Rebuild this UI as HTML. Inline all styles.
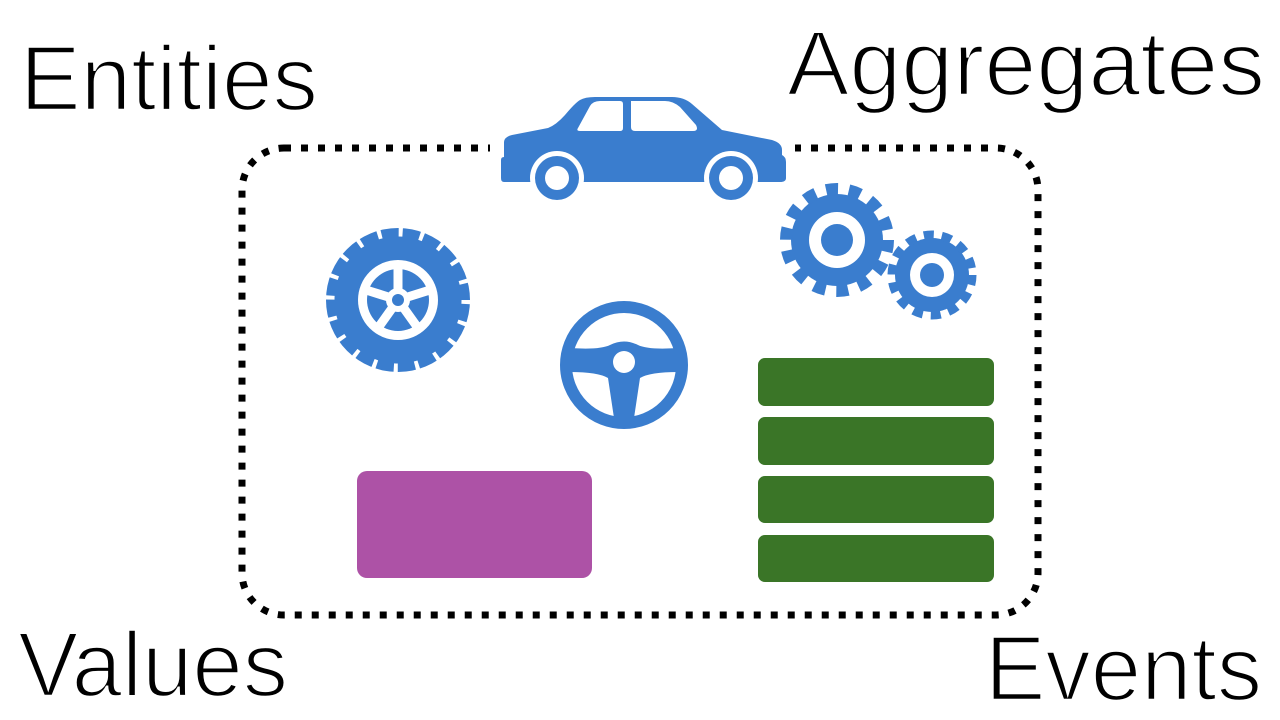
<!DOCTYPE html>
<html><head><meta charset="utf-8"><style>
html,body{margin:0;padding:0;background:#fff;width:1280px;height:720px;overflow:hidden}
svg{display:block}
text{font-family:"Liberation Sans",sans-serif;fill:#000;stroke:#fff;stroke-width:2.5}
</style></head><body>
<svg width="1280" height="720" viewBox="0 0 1280 720" xmlns="http://www.w3.org/2000/svg">
<text x="20" y="110" font-size="92" textLength="298" lengthAdjust="spacingAndGlyphs">Entities</text>
<text x="787" y="95" font-size="92" textLength="478" lengthAdjust="spacingAndGlyphs">Aggregates</text>
<text x="18" y="696" font-size="92" textLength="270" lengthAdjust="spacingAndGlyphs">Values</text>
<text x="985" y="700" font-size="92" textLength="277" lengthAdjust="spacingAndGlyphs">Events</text>

<rect x="242" y="148" width="796" height="467" rx="42" fill="none" stroke="#000" stroke-width="7" stroke-dasharray="7 10"/>

<!-- car -->
<g fill="#3A7DCE">
<rect x="490" y="135" width="305" height="70" fill="#fff"/>
<path d="M512 135 L548 128 Q556 125 565 115 Q575 103 580 100 Q585 97 595 97 L672 97 Q684 97 692 104 L722 130 L772 140 Q782 143 782 150 L782 155 Q786 157 786 162 L786 178 Q786 182 780 182 L504 182 Q501 182 501 178 L501 160 Q501 157 504 157 L504 142 Q504 137 512 135 Z"/>
<path d="M578 128 L590 106 Q593 101 600 101 L620 101 Q623 101 623 104 L623 128 Q623 131 620 131 L580 131 Q576 131 578 128 Z M631 101 L665 101 Q673 101 680 107 L696 125 Q699 131 693 131 L635 131 Q631 131 631 127 Z" fill="#fff"/>
<circle cx="557" cy="178" r="27" fill="#fff"/><circle cx="731" cy="178" r="27" fill="#fff"/>
<circle cx="557" cy="178" r="22"/><circle cx="731" cy="178" r="22"/>
<circle cx="557" cy="178" r="12" fill="#fff"/><circle cx="731" cy="178" r="12" fill="#fff"/>
</g>

<!-- tire -->
<g>
<circle cx="398" cy="300" r="72" fill="#3A7DCE"/>
<circle cx="398" cy="300" r="68" fill="none" stroke="#fff" stroke-width="9" stroke-dasharray="4 17.4"/>
<circle cx="398" cy="300" r="40" fill="#fff"/>
<circle cx="398" cy="300" r="31" fill="#3A7DCE"/>
<g stroke="#fff" stroke-width="9">
<line x1="398" y1="300" x2="398" y2="266"/>
<line x1="398" y1="300" x2="430" y2="290"/>
<line x1="398" y1="300" x2="418" y2="328"/>
<line x1="398" y1="300" x2="378" y2="328"/>
<line x1="398" y1="300" x2="366" y2="290"/>
</g>
<circle cx="398" cy="300" r="12" fill="#fff"/>
<circle cx="398" cy="300" r="6" fill="#3A7DCE"/>
</g>

<!-- steering wheel -->
<g fill="#3A7DCE">
<circle cx="624" cy="365" r="58" fill="none" stroke="#3A7DCE" stroke-width="12"/>
<path d="M570 348 Q600 350 610 345 Q624 338 638 345 Q648 350 678 348 L678 372 Q650 372 640 378 L634 418 L614 418 L608 378 Q598 372 570 372 Z"/>
<circle cx="624" cy="362" r="11" fill="#fff"/>
</g>

<!-- gears -->
<g>
<circle cx="837" cy="240" r="46" fill="#3A7DCE"/>
<circle cx="837" cy="240" r="51" fill="none" stroke="#3A7DCE" stroke-width="12" stroke-dasharray="12 10.9"/>
<circle cx="837" cy="240" r="28" fill="#fff"/>
<circle cx="837" cy="240" r="16" fill="#3A7DCE"/>
<circle cx="932" cy="275" r="37" fill="#3A7DCE"/>
<circle cx="932" cy="275" r="40" fill="none" stroke="#3A7DCE" stroke-width="9" stroke-dasharray="10 8"/>
<circle cx="932" cy="275" r="22" fill="#fff"/>
<circle cx="932" cy="275" r="12" fill="#3A7DCE"/>
</g>

<rect x="357" y="471" width="235" height="107" rx="10" fill="#AD52A6"/>
<g fill="#3A7527">
<rect x="758" y="358" width="236" height="48" rx="7"/>
<rect x="758" y="417" width="236" height="48" rx="7"/>
<rect x="758" y="476" width="236" height="47" rx="7"/>
<rect x="758" y="535" width="236" height="47" rx="7"/>
</g>
</svg>
</body></html>
